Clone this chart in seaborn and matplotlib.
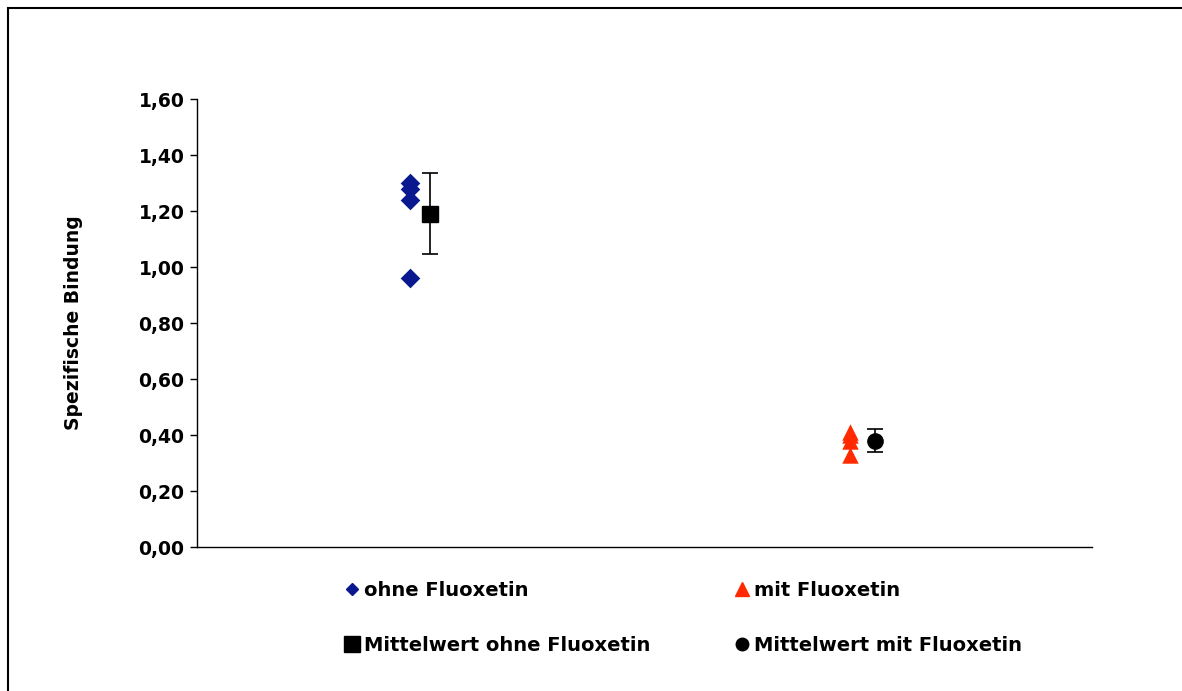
import matplotlib
matplotlib.use("Agg")
import matplotlib.pyplot as plt
import seaborn as sns
import pandas as pd
import numpy as np
from matplotlib.patches import Rectangle
from matplotlib.lines import Line2D
from matplotlib.ticker import FuncFormatter

# ---- data ----
ohne_values = [1.30, 1.28, 1.24, 0.96]
mit_values = [0.41, 0.40, 0.38, 0.33]
ohne_x = 0.95
mit_x = 2.92
mean_ohne = 1.19
err_ohne = 0.145
mean_ohne_x = 1.04
mean_mit = 0.38
err_mit = 0.04
mean_mit_x = 3.03
yticks = [0.0, 0.2, 0.4, 0.6, 0.8, 1.0, 1.2, 1.4, 1.6]
ylabel = "Spezifische Bindung"
labels = ["ohne Fluoxetin", "Mittelwert ohne Fluoxetin", "mit Fluoxetin", "Mittelwert mit Fluoxetin"]

blue = "#0A1890"
red = "#FF2A00"

sns.set_style("white")
plt.rcParams['font.family'] = ['DejaVu Sans']
plt.rcParams['font.weight'] = 'bold'
plt.rcParams['text.color'] = 'black'
plt.rcParams['axes.labelcolor'] = 'black'
plt.rcParams['ytick.color'] = 'black'
plt.rcParams['xtick.color'] = 'black'

fig = plt.figure(figsize=(11.82, 6.91), dpi=100)
ax = fig.add_axes([197/1182, 1-547/691, (1092-197)/1182, (547-99)/691])

df = pd.DataFrame({
    "x": [ohne_x]*len(ohne_values) + [mit_x]*len(mit_values),
    "y": ohne_values + mit_values,
    "grp": ["ohne"]*len(ohne_values) + ["mit"]*len(mit_values),
})
sns.scatterplot(data=df[df.grp == "ohne"], x="x", y="y", marker="D", s=100,
                color=blue, edgecolor=blue, linewidth=0, ax=ax, legend=False, zorder=3)
sns.scatterplot(data=df[df.grp == "mit"], x="x", y="y", marker="^", s=140,
                color=red, edgecolor=red, linewidth=0, ax=ax, legend=False, zorder=3)

ax.errorbar([mean_ohne_x], [mean_ohne], yerr=[err_ohne], fmt="s", color="black",
            markersize=11.5, elinewidth=1.2, capsize=5.8, capthick=1.2, zorder=4)
ax.errorbar([mean_mit_x], [mean_mit], yerr=[err_mit], fmt="o", color="black",
            markersize=11, elinewidth=1.2, capsize=5.5, capthick=1.2, zorder=4)

ax.set_xlim(0, 4)
ax.set_ylim(0, 1.6)
ax.set_yticks(yticks)
ax.yaxis.set_major_formatter(FuncFormatter(lambda v, p: f"{v:.2f}".replace(".", ",")))
ax.set_xticks([])
ax.set_xlabel("")
ax.set_ylabel(ylabel, fontsize=13.5, fontweight="bold", labelpad=40, color="black")
ax.tick_params(axis="y", left=True, length=5, width=1, direction="out", labelsize=13.5, pad=4,
               colors="black")
for lab in ax.get_yticklabels():
    lab.set_fontweight("bold")
for s in ["top", "right"]:
    ax.spines[s].set_visible(False)
for s in ["left", "bottom"]:
    ax.spines[s].set_color("black")
    ax.spines[s].set_linewidth(1)

# legend
handles = [
    Line2D([], [], linestyle="none", marker="D", color=blue, markersize=6.5),
    Line2D([], [], linestyle="none", marker="s", color="black", markersize=12),
    Line2D([], [], linestyle="none", marker="^", color=red, markersize=10),
    Line2D([], [], linestyle="none", marker="o", color="black", markersize=9),
]
leg = fig.legend(handles, labels, ncol=2, frameon=False, loc="upper left",
                 bbox_to_anchor=(345/1182, 1-581/691), prop={"weight": "bold", "size": 14},
                 handlelength=0.75, handletextpad=0.25, columnspacing=4.3, labelspacing=1.85,
                 borderaxespad=0, borderpad=0)
for t in leg.get_texts():
    t.set_color("black")

# outer frame
fig.patches.append(Rectangle((7.5/1182, -0.1), 1.2, 1 - 8/691 + 0.1, transform=fig.transFigure,
                             fill=False, edgecolor="black", linewidth=1.5))

fig.savefig("out.png", dpi=100)
